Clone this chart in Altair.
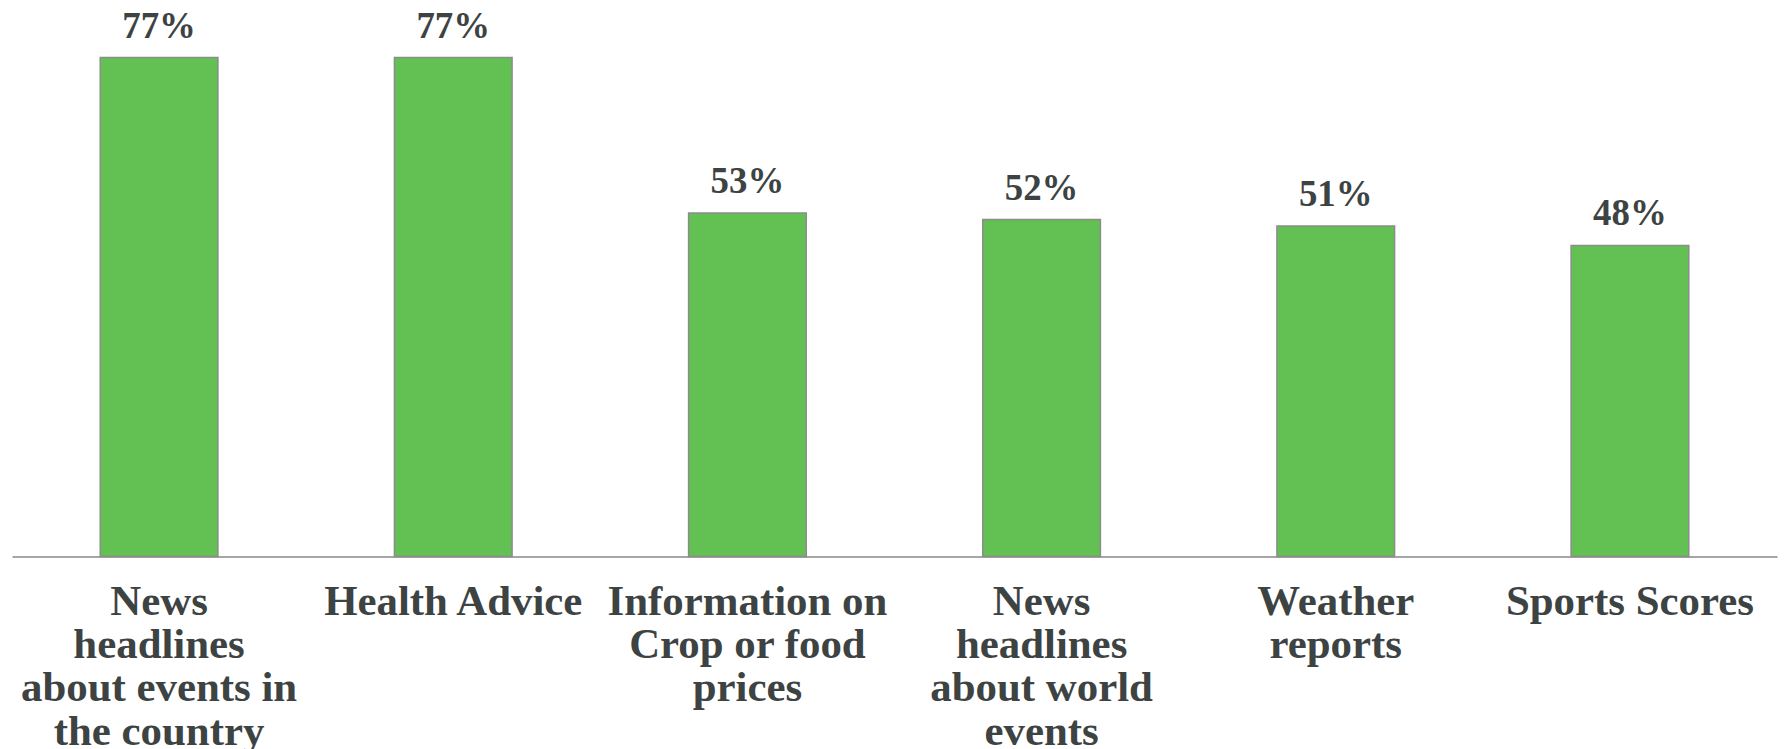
import altair as alt
import pandas as pd

categories = [
    "News|headlines|about events in|the country",
    "Health Advice",
    "Information on|Crop or food|prices",
    "News|headlines|about world|events",
    "Weather|reports",
    "Sports Scores",
]
values = [77, 77, 53, 52, 51, 48]

df = pd.DataFrame({"category": categories, "value": values})

FONT = "Liberation Serif"
TEXT_COLOR = "#3d4343"

x_enc = alt.X(
    "category:N",
    sort=categories,
    title=None,
    scale=alt.Scale(paddingInner=0.6, paddingOuter=0.3),
    axis=alt.Axis(
        labelExpr="split(datum.label, '|')",
        labelAngle=0,
        labelFont=FONT,
        labelFontSize=43,
        labelFontWeight="bold",
        labelColor=TEXT_COLOR,
        labelLineHeight=43.5,
        labelPadding=24,
        labelLimit=0,
        labelOverlap=False,
        labelAlign="center",
        labelBaseline="top",
        ticks=False,
        tickSize=0,
        domainColor="#a6a6a6",
        domainWidth=2,
        grid=False,
    ),
)
y_enc = alt.Y(
    "value:Q",
    scale=alt.Scale(domain=[0, 82.6], nice=False, zero=True),
    axis=None,
)

bars = alt.Chart(df).mark_bar(
    color="#62c152", stroke="#8c8c8c", strokeWidth=1.5
).encode(x=x_enc, y=y_enc)

labels = (
    alt.Chart(df)
    .transform_calculate(label="datum.value + '%'")
    .mark_text(
        font=FONT,
        fontSize=37,
        fontWeight="bold",
        color=TEXT_COLOR,
        baseline="alphabetic",
        dy=-20,
    )
    .encode(x=alt.X("category:N", sort=categories), y="value:Q", text="label:N")
)

chart = (
    alt.layer(bars, labels)
    .properties(
        width=1771,
        height=537,
        background="white",
        autosize=alt.AutoSizeParams(type="none"),
        padding={"left": 4, "top": 12, "right": 4, "bottom": 200},
    )
    .configure_view(strokeWidth=0, stroke="transparent")
)

chart.save("out.html", embed_options={"renderer": "svg", "actions": False})
